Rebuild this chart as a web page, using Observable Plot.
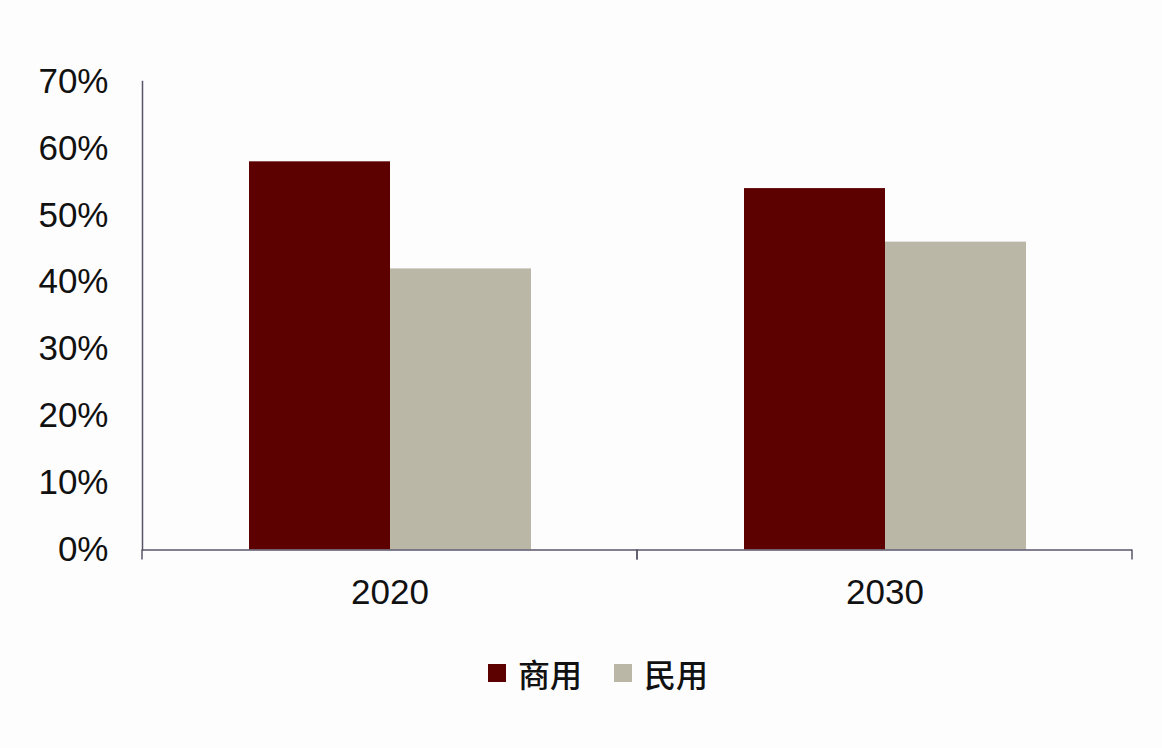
<!DOCTYPE html>
<html>
<head>
<meta charset="utf-8">
<script src="https://cdn.jsdelivr.net/npm/d3@7"></script>
<script src="https://cdn.jsdelivr.net/npm/@observablehq/plot@0.6"></script>
<style>
  html, body { margin: 0; padding: 0; background: #fdfdfe; }
  #wrap { position: relative; width: 1162px; height: 748px; }
  #legend { position: absolute; left: 488px; top: 650px; display: flex; align-items: center;
    font-family: "Noto Sans CJK SC", sans-serif; font-size: 32px; font-weight: 500; color: #111; }
  .sw { width: 18px; height: 18px; display: inline-block; }
  .it { display: flex; align-items: center; }
</style>
</head>
<body>
<div id="wrap">
  <div id="chart"></div>
  <div id="legend"></div>
</div>
<script>
// ---- data ----
const years = ["2020", "2030"];
const types = ["商用", "民用"];
const shareCommercial = [58, 54];
const shareCivil = [42, 46];
const yTicks = [0, 10, 20, 30, 40, 50, 60, 70];
const colors = ["#5c0000", "#bab7a7"];
const axisColor = "#5a5468";

const data = [];
years.forEach((yr, i) => {
  data.push({year: yr, type: types[0], value: shareCommercial[i]});
  data.push({year: yr, type: types[1], value: shareCivil[i]});
});

const edgeTicks = (index, scales, values, dimensions) => {
  const {width, marginLeft, marginRight} = dimensions;
  const y0 = scales.y(0);
  const g = d3.create("svg:g").attr("stroke", axisColor).attr("stroke-width", 1.5);
  for (const x of [marginLeft, width - marginRight]) {
    g.append("line").attr("x1", x).attr("x2", x).attr("y1", y0).attr("y2", y0 + 10);
  }
  return g.node();
};

const chart = Plot.plot({
  width: 1162,
  height: 630,
  marginLeft: 142,
  marginRight: 30,
  marginTop: 81,
  marginBottom: 80.5,
  style: {fontFamily: "Liberation Sans, Arial, sans-serif", fontSize: "35px", color: "#111", background: "transparent"},
  fx: {domain: years, padding: 0, axis: "bottom", tickSize: 0, tickPadding: 29, label: null},
  x: {domain: types, paddingInner: 0, paddingOuter: 0.75, axis: null},
  y: {domain: [0, 70], ticks: yTicks, tickFormat: d => d + "%", tickSize: 0, tickPadding: 34, label: null},
  color: {domain: types, range: colors},
  marks: [
    Plot.barY(data, {fx: "year", x: "type", y: "value", fill: "type"}),
    Plot.frame({anchor: "left", facetAnchor: "left", stroke: axisColor, strokeWidth: 1.5}),
    Plot.ruleY([0], {stroke: axisColor, strokeWidth: 1.5}),
    edgeTicks
  ]
});
document.getElementById("chart").appendChild(chart);

const legend = document.getElementById("legend");
types.forEach((t, i) => {
  const it = document.createElement("div");
  it.className = "it";
  it.style.marginRight = i === 0 ? "32px" : "0";
  const sw = document.createElement("span");
  sw.className = "sw";
  sw.style.background = colors[i];
  const tx = document.createElement("span");
  tx.textContent = t;
  tx.style.marginLeft = "12px";
  it.appendChild(sw);
  it.appendChild(tx);
  legend.appendChild(it);
});
</script>
</body>
</html>
